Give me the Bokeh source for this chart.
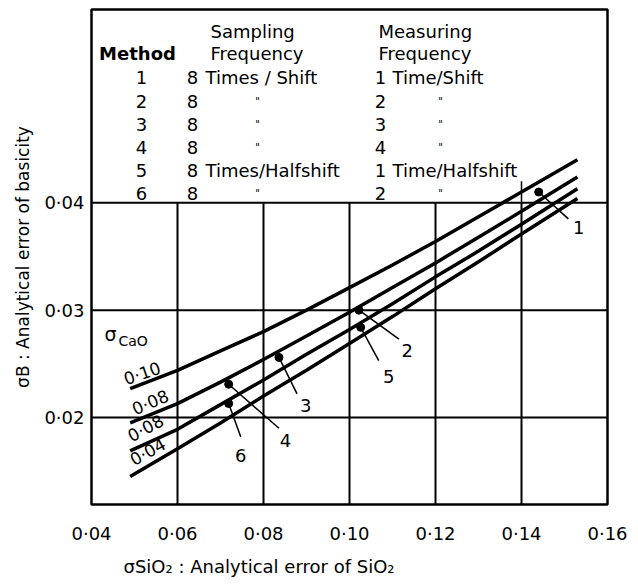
from bokeh.plotting import figure
from bokeh.models import Range1d, FixedTicker, Title
from bokeh.core.properties import value
from bokeh.embed import file_html
from bokeh.resources import INLINE

# ---------------- data ----------------
x_ticks = [0.04, 0.06, 0.08, 0.10, 0.12, 0.14, 0.16]
x_tick_labels = ["0·04", "0·06", "0·08", "0·10", "0·12", "0·14", "0·16"]
y_ticks = [0.02, 0.03, 0.04]
y_tick_labels = ["0·02", "0·03", "0·04"]

sio2_error = [0.049, 0.06, 0.07, 0.08, 0.09, 0.10, 0.11, 0.12, 0.13, 0.14, 0.153]
basicity_cao_010 = [0.0227, 0.0244, 0.0262, 0.0280, 0.0300, 0.0321, 0.0342, 0.0364, 0.0387, 0.0410, 0.0440]
basicity_cao_008 = [0.0195, 0.0213, 0.0233, 0.0254, 0.0276, 0.0298, 0.0321, 0.0344, 0.0368, 0.0392, 0.0424]
basicity_cao_006 = [0.0169, 0.0189, 0.0212, 0.0235, 0.0259, 0.0282, 0.0306, 0.0331, 0.0355, 0.0380, 0.0413]
basicity_cao_004 = [0.0145, 0.0171, 0.0195, 0.0220, 0.0244, 0.0269, 0.0294, 0.0320, 0.0345, 0.0371, 0.0404]
curve_labels = ["0·10", "0·08", "0·08", "0·04"]

method_ids = ["1", "2", "3", "4", "5", "6"]
method_sio2 = [0.1440, 0.1022, 0.0836, 0.0719, 0.1026, 0.0719]
method_basicity = [0.0410, 0.0300, 0.0256, 0.0231, 0.0284, 0.0213]

sampling_count = ["8", "8", "8", "8", "8", "8"]
sampling_unit = ["Times / Shift", "\"", "\"", "\"", "Times/Halfshift", "\""]
measuring_count = ["1", "2", "3", "4", "1", "2"]
measuring_unit = ["Time/Shift", "\"", "\"", "\"", "Time/Halfshift", "\""]

x_title = "σSiO₂ : Analytical error of SiO₂"
y_title = "σB : Analytical error of basicity"

# ---------------- layout constants ----------------
FONT = value("DejaVu Sans")
FONT_NAME = "DejaVu Sans"
X0, X1 = 0.04, 0.16
Y0, Y1 = 0.0119, 0.058

curve_label_x = [0.0518, 0.0537, 0.0526, 0.0531]
curve_label_y = [0.0241, 0.0214, 0.0190, 0.0168]
curve_label_angle = [19, 23, 28, 29]

leader_x = [0.1509, 0.1115, 0.0878, 0.0836, 0.1068, 0.0747]
leader_y = [0.0385, 0.0273, 0.0222, 0.0190, 0.0253, 0.0182]
num_x = [0.1533, 0.1134, 0.0898, 0.0851, 0.1091, 0.0747]
num_y = [0.0377, 0.0262, 0.0211, 0.0179, 0.0238, 0.0165]

row_y0, row_dy = 0.05163, 0.00216
row_y = [row_y0 - i * row_dy for i in range(len(method_ids))]
head1_y, head2_y = 0.05591, 0.05386

p = figure(width=630, height=588, x_range=Range1d(X0, X1), y_range=Range1d(Y0, Y1),
           output_backend="svg", toolbar_location=None,
           min_border_left=91, min_border_top=9, min_border_right=23, min_border_bottom=84)
p.background_fill_color = "white"
p.border_fill_color = "white"
p.outline_line_color = "black"
p.outline_line_width = 2.5
p.grid.visible = False

for ax in (p.xaxis, p.yaxis):
    ax.axis_line_color = None
    ax.major_tick_line_color = None
    ax.minor_tick_line_color = None
    ax.major_tick_in = 0
    ax.major_tick_out = 0
    ax.major_label_text_font = FONT_NAME
    ax.major_label_text_font_size = "18px"
    ax.major_label_text_color = "black"

p.xaxis.ticker = FixedTicker(ticks=x_ticks)
p.xaxis.major_label_overrides = dict(zip(x_ticks, x_tick_labels))
p.xaxis.major_label_standoff = 18
p.yaxis.ticker = FixedTicker(ticks=y_ticks)
p.yaxis.major_label_overrides = dict(zip(y_ticks, y_tick_labels))
p.yaxis.major_label_standoff = 7
p.yaxis.axis_label = y_title
p.yaxis.axis_label_text_font = FONT_NAME
p.yaxis.axis_label_text_font_size = "17px"
p.yaxis.axis_label_text_font_style = "normal"
p.yaxis.axis_label_text_color = "black"
p.yaxis.axis_label_standoff = 8

xlab = Title(text=x_title, align="left", offset=32, vertical_align="middle",
             text_font=FONT_NAME, text_font_size="18px", text_font_style="normal",
             text_color="black", standoff=17)
p.add_layout(xlab, "below")

# grid (drawn as segments at tick positions)
inner_x = x_ticks[1:-1]
p.segment(x0=inner_x, y0=[Y0] * len(inner_x), x1=inner_x, y1=[y_ticks[-1]] * len(inner_x),
          line_color="black", line_width=2)
p.segment(x0=[x_ticks[-2]], y0=[y_ticks[-1]], x1=[x_ticks[-2]], y1=[0.0420],
          line_color="black", line_width=1.5)
p.segment(x0=[X0] * len(y_ticks), y0=y_ticks, x1=[X1] * len(y_ticks), y1=y_ticks,
          line_color="black", line_width=2)

# curves
for ys in (basicity_cao_010, basicity_cao_008, basicity_cao_006, basicity_cao_004):
    p.line(sio2_error, ys, line_color="black", line_width=3.5)

p.text(x=curve_label_x, y=curve_label_y, text=curve_labels, angle=curve_label_angle,
       angle_units="deg", text_align="center", text_baseline="middle",
       text_font=FONT, text_font_size="17px", text_color="black")
p.text(x=[0.04442], y=[0.02781], text=["σ"], text_align="center", text_baseline="middle",
       text_font=FONT, text_font_size="19px", text_color="black")
p.text(x=[0.04628], y=[0.02716], text=["CaO"], text_align="left", text_baseline="middle",
       text_font=FONT, text_font_size="14px", text_color="black")

# method points
p.segment(x0=method_sio2, y0=method_basicity, x1=leader_x, y1=leader_y,
          line_color="black", line_width=1.5)
p.scatter(method_sio2, method_basicity, size=8, color="black")
p.text(x=num_x, y=num_y, text=method_ids, text_align="center", text_baseline="middle",
       text_font=FONT, text_font_size="18px", text_color="black")

# table
p.text(x=[0.06767, 0.06767, 0.10674, 0.10674], y=[head1_y, head2_y, head1_y, head2_y],
       text=["Sampling", "Frequency", "Measuring", "Frequency"], text_align="left",
       text_baseline="middle", text_font=FONT, text_font_size="18px", text_color="black")
p.text(x=[0.0507], y=[head2_y], text=["Method"], text_align="center", text_baseline="middle",
       text_font=FONT, text_font_size="18px", text_font_style="bold", text_color="black")
p.text(x=[0.05163] * 6, y=row_y, text=method_ids, text_align="center", text_baseline="middle",
       text_font=FONT, text_font_size="18px", text_color="black")
p.text(x=[0.06349] * 6, y=row_y, text=sampling_count, text_align="center", text_baseline="middle",
       text_font=FONT, text_font_size="18px", text_color="black")
p.text(x=[0.10721] * 6, y=row_y, text=measuring_count, text_align="center", text_baseline="middle",
       text_font=FONT, text_font_size="18px", text_color="black")

long_s = [i for i, u in enumerate(sampling_unit) if u != "\""]
ditto_s = [i for i, u in enumerate(sampling_unit) if u == "\""]
p.text(x=[0.06651] * len(long_s), y=[row_y[i] for i in long_s], text=[sampling_unit[i] for i in long_s],
       text_align="left", text_baseline="middle", text_font=FONT, text_font_size="18px", text_color="black")
p.text(x=[0.0786] * len(ditto_s), y=[row_y[i] for i in ditto_s], text=[sampling_unit[i] for i in ditto_s],
       text_align="center", text_baseline="middle", text_font=FONT, text_font_size="10px", text_color="black")
long_m = [i for i, u in enumerate(measuring_unit) if u != "\""]
ditto_m = [i for i, u in enumerate(measuring_unit) if u == "\""]
p.text(x=[0.1100] * len(long_m), y=[row_y[i] for i in long_m], text=[measuring_unit[i] for i in long_m],
       text_align="left", text_baseline="middle", text_font=FONT, text_font_size="18px", text_color="black")
p.text(x=[0.12116] * len(ditto_m), y=[row_y[i] for i in ditto_m], text=[measuring_unit[i] for i in ditto_m],
       text_align="center", text_baseline="middle", text_font=FONT, text_font_size="10px", text_color="black")

open("out.html", "w").write(file_html(p, INLINE))
